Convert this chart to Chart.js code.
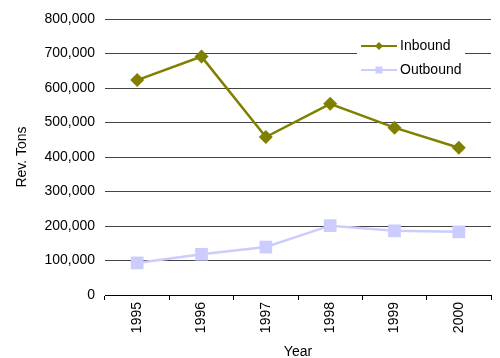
<!DOCTYPE html>
<html>
<head>
<meta charset="utf-8">
<script src="https://cdn.jsdelivr.net/npm/chart.js@4"></script>
<style>
  body { margin: 0; background: #fff; }
  #wrap { width: 500px; height: 358px; }
</style>
</head>
<body>
<div id="wrap"><canvas id="myChart" width="500" height="358"></canvas></div>
<script>
// Data
const years = ['1995', '1996', '1997', '1998', '1999', '2000'];
const inbound = [623000, 691000, 458000, 554000, 485000, 427000];
const outbound = [93000, 118000, 139000, 201000, 186000, 183000];

const fontFamily = 'Arial, "Liberation Sans", sans-serif';

// legend drawn inside the plot, top right
const innerLegend = {
    id: 'innerLegend',
    afterDraw(chart) {
        const c = chart.ctx;
        const x = 357, y = 34;
        c.save();
        c.fillStyle = '#fff';
        c.fillRect(x, y, 108, 50);
        c.font = '14px ' + fontFamily;
        c.textBaseline = 'middle';
        chart.data.datasets.forEach((ds, i) => {
            const ly = y + 12 + i * 24;
            c.strokeStyle = ds.borderColor;
            c.lineWidth = 2;
            c.beginPath();
            c.moveTo(x + 4, ly);
            c.lineTo(x + 40, ly);
            c.stroke();
            c.fillStyle = ds.backgroundColor;
            c.beginPath();
            if (ds.pointStyle === 'rectRot') {
                c.moveTo(x + 22, ly - 4);
                c.lineTo(x + 26, ly);
                c.lineTo(x + 22, ly + 4);
                c.lineTo(x + 18, ly);
            } else {
                c.rect(x + 18.5, ly - 3.5, 7, 7);
            }
            c.fill();
            c.fillStyle = '#000';
            c.fillText(ds.label, x + 43, ly);
        });
        c.restore();
    }
};

const ctx = document.getElementById('myChart').getContext('2d');
const myChart = new Chart(ctx, {
    type: 'line',
    data: {
        labels: years,
        datasets: [{
            label: 'Inbound',
            data: inbound,
            borderColor: '#808000',
            backgroundColor: '#808000',
            borderWidth: 2.5,
            pointStyle: 'rectRot',
            pointRadius: 7,
            pointBorderWidth: 0,
            tension: 0
        }, {
            label: 'Outbound',
            data: outbound,
            borderColor: '#ccccff',
            backgroundColor: '#ccccff',
            borderWidth: 2.5,
            pointStyle: 'rect',
            pointRadius: 9,
            pointBorderWidth: 0,
            tension: 0
        }]
    },
    options: {
        responsive: false,
        animation: false,
        layout: { padding: { top: 19, right: 4, left: 14 } },
        plugins: {
            legend: { display: false },
            tooltip: { enabled: false }
        },
        scales: {
            x: {
                offset: true,
                grid: { display: true, drawOnChartArea: false, offset: true, color: '#000', tickLength: 5 },
                border: { color: '#000' },
                ticks: { color: '#000', font: { size: 14, family: fontFamily }, minRotation: 90, maxRotation: 90, padding: 2 },
                title: { display: true, text: 'Year', color: '#000', font: { size: 14, family: fontFamily }, padding: { top: 0, bottom: -3 } },
                afterFit: s => { s.height = 63; }
            },
            y: {
                min: 0,
                max: 800000,
                ticks: {
                    stepSize: 100000,
                    color: '#000',
                    padding: 10,
                    font: { size: 14, family: fontFamily },
                    callback: v => v.toLocaleString('en-US')
                },
                grid: { color: '#444', drawTicks: false },
                border: { display: false },
                title: { display: true, text: 'Rev. Tons', color: '#000', font: { size: 14, family: fontFamily }, padding: { top: 0, bottom: 6 } },
                afterFit: s => { s.width = 91; }
            }
        }
    },
    plugins: [innerLegend]
});
</script>
</body>
</html>
